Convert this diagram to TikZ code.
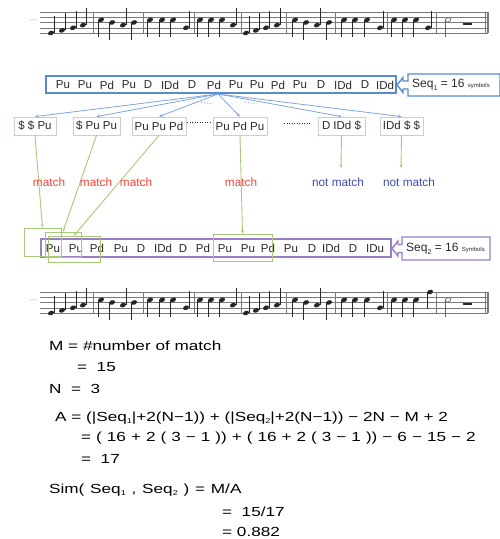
\documentclass[tikz,border=0pt]{standalone}
\usepackage{fontspec}
\setmainfont{Liberation Sans}
\newfontfamily\fmlfont[FakeStretch=1.3]{Liberation Sans}
\usetikzlibrary{arrows.meta}

\definecolor{staffcol}{HTML}{7A7A7A}
\definecolor{notecol}{HTML}{262626}
\definecolor{seqblue}{HTML}{5A8AD0}
\definecolor{fanblue}{HTML}{7EA6DE}
\definecolor{subframe}{HTML}{C3D0E2}
\definecolor{matchgreen}{HTML}{A9C97A}
\definecolor{seqpurple}{HTML}{9A7CC9}
\definecolor{matchred}{HTML}{F2463A}
\definecolor{nomatch}{HTML}{3D4DB0}
\definecolor{ink}{HTML}{2A2A2A}

% small lowered index, e.g. Seq_1
\newcommand\sbs[1]{\raisebox{-0.35ex}{\fontsize{7}{7}\selectfont #1}}

% one line of music: #1 = top staff line, #2 = last note of bar 8, #3 = name prefix
\newcommand\musicstaff[3]{%
  \foreach \k in {0,...,4}
    \draw[staffcol,line width=0.5] (40,{#1+\k*5.25}) -- (488,{#1+\k*5.25});
  \foreach \bx in {93,143,194,241,286,335,387,436,485}
    \draw[staffcol,line width=0.5] (\bx,#1) -- (\bx,{#1+21});
  \draw[staffcol,line width=1.2] (488,#1) -- (488,{#1+21});
  \node[text=staffcol,font=\fontsize{6}{6}\selectfont,inner sep=0] (#3dots) at (33,{#1+9}) {...,};
  \foreach \x/\p/\d in {51/0/1,62/1/1,73/2/1,83/3/1,
      101/5/-1,112/4/-1,123/3/1,134/4/-1,
      150/5/-1,162/5/-1,173/5/-1,186/2/1,
      200/5/-1,211/5/-1,222/5/-1,233/3/1,
      246/0/1,256/1/1,266/2/1,277/3/1,
      295/5/-1,306/4/-1,317/3/1,329/4/-1,
      344/5/-1,355/5/-1,367/5/-1,380/2/1,
      394/5/-1,405/5/-1,416/5/-1,#2}{
    \pgfmathsetmacro\ny{#1+21-\p*2.625}
    \fill[notecol,rotate around={22:(\x,\ny)}] (\x,\ny) ellipse [x radius=3.1,y radius=2.2];
    \draw[notecol,line width=0.6] ({\x+\d*2.8},\ny) -- ++(0,{-\d*17});
  }
  % half note and rest in the last bar
  \pgfmathsetmacro\hy{#1+21-5*2.625}
  \draw[notecol!70,line width=0.7,rotate around={22:(448,\hy)}] (448,\hy) ellipse [x radius=3,y radius=2];
  \draw[notecol!70,line width=0.6] (445.2,\hy) -- ++(0,17);
  \fill[notecol] (463,{#1+10.5}) rectangle (472,{#1+13});
}

\tikzset{
  tok/.style={inner sep=0,text=ink,font=\fontsize{11.5}{11.5}\selectfont},
  subbox/.style={draw=subframe,line width=0.8,inner sep=0,text=ink,
    font=\fontsize{11.5}{11.5}\selectfont,minimum height=18},
  gbox/.style={draw=matchgreen,line width=0.9,inner sep=0},
  fan/.style={draw=fanblue,line width=0.8,-{Stealth[length=3.5pt,width=3pt]}},
  glink/.style={draw=matchgreen,line width=0.9,-{Stealth[length=3.5pt,width=3pt]}},
  lbl/.style={inner sep=0,font=\fontsize{11.8}{11.8}\selectfont},
  fml/.style={inner sep=0,anchor=west,text=black,font=\fmlfont\fontsize{13.2}{13.2}\selectfont},
}

\begin{document}
\begin{tikzpicture}[x=1pt,y=-1pt]
\useasboundingbox (0,0) rectangle (499,539);
\fill[white] (0,0) rectangle (499,539);

% ---- upper melody ----
\musicstaff{12}{428/2/1}{upper}

% ---- first symbol sequence ----
\node[draw=seqblue,line width=1.5,minimum width=350,minimum height=17,inner sep=0] (seqA) at (221,84.5) {};
\foreach \t/\px [count=\i] in {Pu/63,Pu/85,Pd/107,Pu/129,D/148,IDd/170,D/192,Pd/214,
    Pu/236,Pu/257,Pd/278,Pu/300,D/321,IDd/343,D/365,IDd/385}
  \node[tok] (sa\i) at (\px,85) {\t};

\draw[seqblue,line width=1.4] (408,74) -- (500,74) -- (500,96) -- (408,96) -- (408,89)
  -- (403,89) -- (403,92.5) -- (397,85) -- (403,77.5) -- (403,81) -- (408,81) -- cycle;
\node[inner sep=0,anchor=west,text=ink,font=\fontsize{12}{12}\selectfont] (labA) at (412,85)
  {Seq\sbs{1} = 16 {\fontsize{6}{6}\selectfont symbols}};

% ---- windows of three symbols ----
\node[subbox,minimum width=42] (b1) at (35,126) {\$ \$ Pu};
\node[subbox,minimum width=47] (b2) at (96.5,126) {\$ Pu Pu};
\node[subbox,minimum width=54] (b3) at (159,126) {Pu Pu Pd};
\node[subbox,minimum width=54] (b4) at (240,126) {Pu Pd Pu};
\node[subbox,minimum width=47] (b5) at (341.5,126) {D IDd \$};
\node[subbox,minimum width=43] (b6) at (401.5,126) {IDd \$ \$};

\draw[ink,line width=0.9,dash pattern=on 0.9pt off 1.6pt] (b3.east) ++(1,-4) -- ([shift={(-1,-4)}]b4.west);
\draw[ink,line width=0.9,dash pattern=on 0.9pt off 1.6pt] (284,123) -- (310,123);
\draw[fanblue,line width=0.9,dash pattern=on 0.9pt off 2pt] (201,102) -- (213,104);
\draw[fanblue,line width=0.9,dash pattern=on 0.9pt off 2pt] (245,102) -- (257,104);

\coordinate (fan) at (218,94);
\foreach \b in {b1,b2,b3,b4,b5,b6}
  \draw[fan] (fan) -- (\b.north);

% ---- second symbol sequence ----
\node[draw=seqpurple,line width=1.5,minimum width=350,minimum height=18,inner sep=0] (seqB) at (216,248) {};
\foreach \t/\px [count=\i] in {Pu/53,Pu/76,Pd/97,Pu/121,D/141,IDd/163,D/183,Pd/203,
    Pu/225,Pu/248,Pd/268,Pu/291,D/312,IDd/331,D/353,IDu/375}
  \node[tok] (sb\i) at (\px,248.5) {\t};

\draw[seqpurple,line width=1.4] (402,237) -- (490,237) -- (490,260) -- (402,260) -- (402,252.5)
  -- (398,252.5) -- (398,256) -- (392,248.5) -- (398,241) -- (398,244.5) -- (402,244.5) -- cycle;
\node[inner sep=0,anchor=west,text=ink,font=\fontsize{12}{12}\selectfont] (labB) at (406,249)
  {Seq\sbs{2} = 16 {\fontsize{6}{6}\selectfont Symbols}};

% ---- matched windows ----
\node[gbox,minimum width=37,minimum height=28] (g1) at (42.5,242) {};
\node[gbox,minimum width=36,minimum height=25] (g2) at (63,244.5) {};
\node[gbox,minimum width=52,minimum height=26] (g3) at (74,249) {};
\node[gbox,minimum width=59,minimum height=27] (g4) at (242.5,247.5) {};

\draw[glink] (b1.south) -- (g1.north);
\draw[glink] (b2.south) -- (g2.north);
\draw[glink] (b3.south) -- (g3.north);
\draw[glink] (b4.south) -- (g4.north);
\coordinate (e5) at (341,168);
\coordinate (e6) at (401,168);
\draw[glink] (b5.south) -- (e5);
\draw[glink] (b6.south) -- (e6);

\node[lbl,text=matchred] (m1) at (49,182) {match};
\node[lbl,text=matchred] (m2) at (96,182) {match};
\node[lbl,text=matchred] (m3) at (136,182) {match};
\node[lbl,text=matchred] (m4) at (241,182) {match};
\node[lbl,text=nomatch] (n1) at (338,182) {not match};
\node[lbl,text=nomatch] (n2) at (409,182) {not match};

% ---- lower melody ----
\musicstaff{292}{430/8/-1}{lower}

% ---- similarity computation ----
\node[fml] (f1) at (49,346) {M = \#number of match};
\node[fml] (f2) at (77,367) {=\ \ 15};
\node[fml] (f3) at (49,389) {N\ \ =\ \ 3};
\node[fml] (f4) at (55,418) {A = (|Seq\sbs{1}|+2(N−1)) + (|Seq\sbs{2}|+2(N−1)) − 2N − M + 2};
\node[fml] (f5) at (81,438)
  {\spaceskip=5.0pt\relax = ( 16 + 2 ( 3 − 1 )) + ( 16 + 2 ( 3 − 1 )) − 6 − 15 − 2};
\node[fml] (f6) at (81,459) {=\ \ 17};
\node[fml] (f7) at (49,490)
  {\spaceskip=5.8pt\relax Sim( Seq\sbs{1} , Seq\sbs{2} ) = M/A};
\node[fml] (f8) at (222,512) {=\ \ 15/17};
\node[fml] (f9) at (222,532) {= 0.882};
\end{tikzpicture}
\end{document}
